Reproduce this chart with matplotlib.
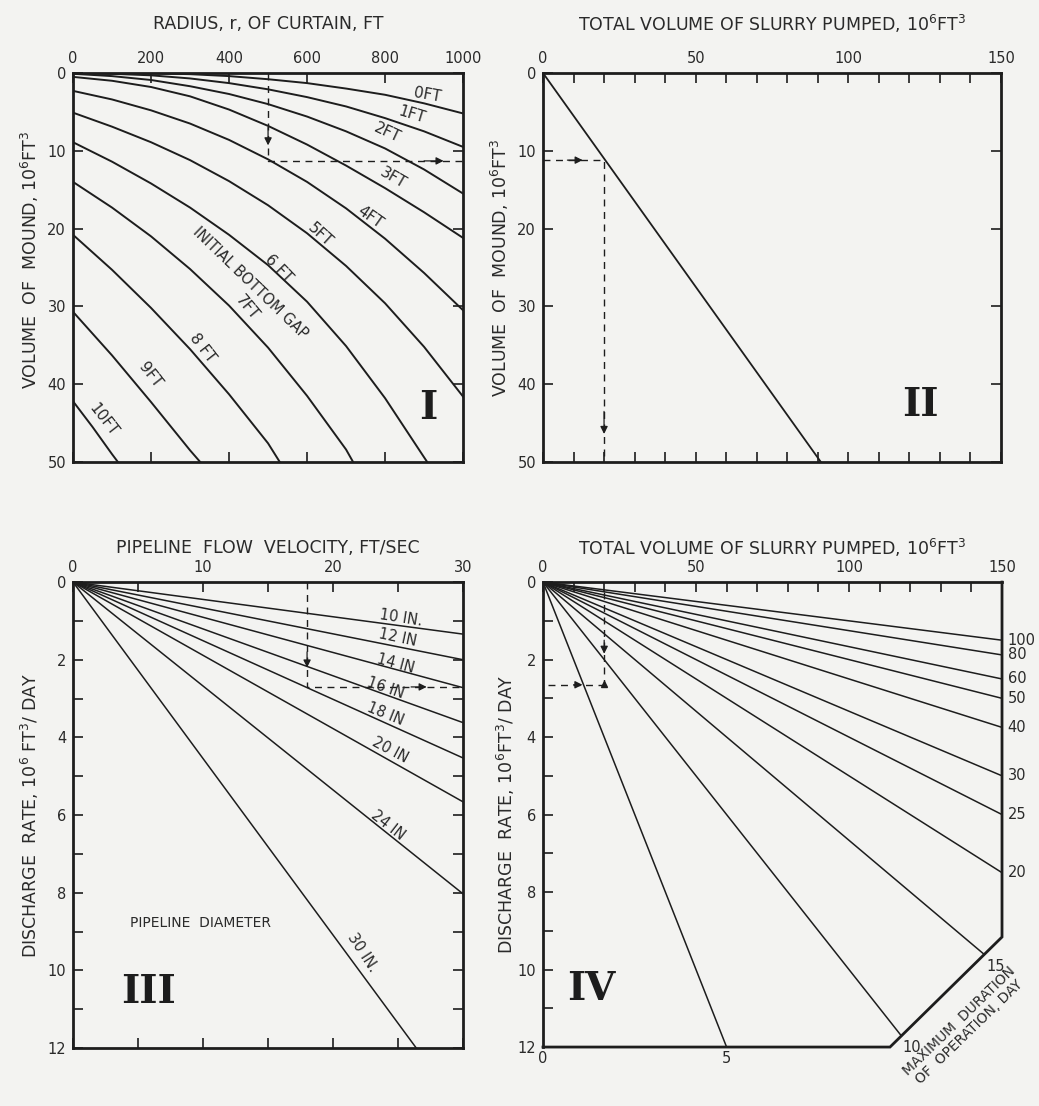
import numpy as np
import matplotlib.pyplot as plt
from matplotlib.ticker import MultipleLocator

plt.rcParams['font.family'] = ['DejaVu Sans']
plt.rcParams['mathtext.default'] = 'regular'

INK = '#1d1d1d'
PAPER = '#f3f3f1'
TXT = '#2a2a2a'

# ---- panel I : volume of mound vs radius of curtain, one curve per bottom gap
gap_labels = ['0FT', '1FT', '2FT', '3FT', '4FT', '5FT', '6 FT', '7FT', '8 FT', '9FT', '10FT']
r_full = [0, 100, 200, 300, 400, 500, 600, 700, 800, 900, 1000]
gap_radius = [
    r_full, r_full, r_full, r_full, r_full, r_full,
    [0, 100, 200, 300, 400, 500, 600, 700, 800, 900, 908],
    [0, 100, 200, 300, 400, 500, 600, 700, 718],
    [0, 100, 200, 300, 400, 500, 530],
    [0, 100, 200, 300, 326],
    [0, 50, 100, 115],
]
gap_volume = [
    [0.0, 0.0, 0.05, 0.15, 0.4, 0.8, 1.3, 2.0, 2.8, 3.9, 5.2],
    [0.0, 0.1, 0.3, 0.7, 1.3, 2.1, 3.1, 4.3, 5.8, 7.5, 9.5],
    [0.1, 0.4, 0.9, 1.7, 2.7, 4.0, 5.6, 7.5, 9.7, 12.4, 15.5],
    [0.5, 1.0, 1.8, 3.0, 4.7, 6.8, 9.2, 11.9, 14.8, 17.9, 21.2],
    [2.3, 3.4, 4.8, 6.5, 8.6, 11.1, 14.0, 17.4, 21.3, 25.7, 30.5],
    [5.1, 6.9, 8.9, 11.2, 13.9, 17.0, 20.6, 24.8, 29.6, 35.2, 41.6],
    [8.9, 11.4, 14.2, 17.3, 20.8, 24.7, 29.4, 35.1, 41.8, 49.4, 50.0],
    [14.0, 17.3, 21.0, 25.2, 29.9, 35.3, 41.5, 48.4, 50.0],
    [20.8, 25.3, 30.2, 35.5, 41.3, 47.6, 50.0],
    [30.7, 36.3, 42.3, 48.5, 50.0],
    [42.2, 45.5, 49.0, 50.0],
]
# label anchor (radius, volume, angle)
gap_label_r = [908, 869, 805, 820, 762, 633, 526, 446, 333, 197, 77]
gap_label_v = [2.8, 5.4, 7.7, 13.5, 18.6, 20.8, 25.1, 30.1, 35.3, 38.8, 44.6]
gap_label_rot = [-10, -17, -25, -30, -35, -42, -46, -50, -52, -52, -52]
ex_radius, ex_mound = 500, 11.3

# ---- panel II : mound volume vs slurry pumped
slurry_line_x = [0, 91]
slurry_line_y = [0, 50]
ex_slurry = 20

# ---- panel III : discharge rate vs pipeline velocity
pipe_labels = ['10 IN.', '12 IN', '14 IN', '16 IN', '18 IN', '20 IN', '24 IN', '30 IN.']
pipe_end_vel = [30, 30, 30, 30, 30, 30, 30, 26.4]
pipe_end_rate = [1.34, 2.0, 2.72, 3.62, 4.53, 5.66, 8.03, 12.0]
pipe_label_v = [25.2, 25.0, 24.8, 24.0, 24.0, 24.4, 24.2, 22.3]
pipe_label_q = [0.93, 1.44, 2.09, 2.73, 3.40, 4.33, 6.26, 9.55]
pipe_label_rot = [-9, -12, -15, -19, -22, -28, -38, -57]
ex_velocity, ex_rate = 18, 2.7

# ---- panel IV : discharge rate vs slurry pumped, one line per duration
duration_days = [100, 80, 60, 50, 40, 30, 25, 20, 15, 10, 5]
dur_end_vol = [150, 150, 150, 150, 150, 150, 150, 150, 144.2, 117.1, 60]
dur_end_rate = [1.5, 1.88, 2.5, 3.0, 3.75, 5.0, 6.0, 7.5, 9.61, 11.71, 12.0]
boundary_vol = [0, 113.4, 150, 150]
boundary_rate = [12, 12, 9.16, 0]

fig = plt.figure(figsize=(10.39, 11.06), dpi=100, facecolor=PAPER)
ax1 = fig.add_axes([0.0703, 0.5823, 0.3754, 0.3517])
ax2 = fig.add_axes([0.5226, 0.5823, 0.4408, 0.3517])
ax3 = fig.add_axes([0.0703, 0.0524, 0.3754, 0.4213])
ax4 = fig.add_axes([0.5226, 0.0533, 0.4418, 0.4204])


def style(ax, xmax, ymax):
    ax.set_facecolor(PAPER)
    ax.set_xlim(0, xmax)
    ax.set_ylim(ymax, 0)
    ax.xaxis.tick_top()
    ax.tick_params(which='both', direction='in', top=True, bottom=True,
                   left=True, right=True, labeltop=True, labelbottom=False,
                   length=7, width=1.2, color=INK, labelcolor=TXT,
                   labelsize=10.5, pad=5)
    for s in ax.spines.values():
        s.set_linewidth(2)
        s.set_color(INK)


def dashed(ax, xs, ys):
    ax.plot(xs, ys, color=INK, lw=1.0, ls=(0, (5, 4)))


def head(ax, tip, back):
    ax.annotate('', xy=tip, xytext=back,
                arrowprops=dict(arrowstyle='-|>', color=INK, lw=0.9,
                                mutation_scale=11, shrinkA=0, shrinkB=0))


def numeral(ax, x, y, s):
    ax.text(x, y, s, fontsize=28, family='DejaVu Serif', fontweight='bold',
            ha='center', va='center', color=INK)


# panel I
style(ax1, 1000, 50)
ax1.set_xticks([0, 200, 400, 600, 800, 1000])
ax1.set_yticks([0, 10, 20, 30, 40, 50])
for r, v in zip(gap_radius, gap_volume):
    ax1.plot(r, v, color=INK, lw=1.4)
for lab, r, v, a in zip(gap_labels, gap_label_r, gap_label_v, gap_label_rot):
    ax1.text(r, v, lab, rotation=a, ha='center', va='center', fontsize=11, color=TXT)
ax1.text(454, 27.0, 'INITIAL BOTTOM GAP', rotation=-44, ha='center', va='center',
         fontsize=10.5, color=TXT)
dashed(ax1, [ex_radius, ex_radius, 1000], [0, ex_mound, ex_mound])
head(ax1, (ex_radius, 9.3), (ex_radius, 7.0))
head(ax1, (950, ex_mound), (900, ex_mound))
numeral(ax1, 910, 43, 'I')
ax1.text(0.5, 1.125, 'RADIUS, r, OF CURTAIN, FT', transform=ax1.transAxes,
         ha='center', va='center', fontsize=12.5, color=TXT)
ax1.text(-0.11, 0.52, 'VOLUME  OF  MOUND, 10$^6$FT$^3$', transform=ax1.transAxes,
         rotation=90, ha='center', va='center', fontsize=12.5, color=TXT)

# panel II
style(ax2, 150, 50)
ax2.set_xticks([0, 50, 100, 150])
ax2.xaxis.set_minor_locator(MultipleLocator(10))
ax2.set_yticks([0, 10, 20, 30, 40, 50])
ax2.plot(slurry_line_x, slurry_line_y, color=INK, lw=1.3)
dashed(ax2, [0, ex_slurry, ex_slurry], [ex_mound - 0.1, ex_mound - 0.1, 50])
head(ax2, (13, ex_mound - 0.1), (8, ex_mound - 0.1))
head(ax2, (ex_slurry, 46.4), (ex_slurry, 43.5))
numeral(ax2, 123.5, 42.7, 'II')
ax2.text(0.5, 1.125, 'TOTAL VOLUME OF SLURRY PUMPED, 10$^6$FT$^3$', transform=ax2.transAxes,
         ha='center', va='center', fontsize=12.5, color=TXT)
ax2.text(-0.094, 0.5, 'VOLUME  OF  MOUND, 10$^6$FT$^3$', transform=ax2.transAxes,
         rotation=90, ha='center', va='center', fontsize=12.5, color=TXT)

# panel III
style(ax3, 30, 12)
ax3.set_xticks([0, 10, 20, 30])
ax3.xaxis.set_minor_locator(MultipleLocator(5))
ax3.set_yticks([0, 2, 4, 6, 8, 10, 12])
ax3.yaxis.set_minor_locator(MultipleLocator(1))
for v, q in zip(pipe_end_vel, pipe_end_rate):
    ax3.plot([0, v], [0, q], color=INK, lw=1.1)
for lab, v, q, a in zip(pipe_labels, pipe_label_v, pipe_label_q, pipe_label_rot):
    ax3.text(v, q, lab, rotation=a, ha='center', va='center', fontsize=10.5, color=TXT)
ax3.text(9.8, 8.78, 'PIPELINE  DIAMETER', ha='center', va='center', fontsize=10, color=TXT)
dashed(ax3, [ex_velocity, ex_velocity, 30], [0, ex_rate, ex_rate])
head(ax3, (ex_velocity, 2.2), (ex_velocity, 1.8))
head(ax3, (27.2, ex_rate), (26.0, ex_rate))
numeral(ax3, 5.8, 10.56, 'III')
ax3.text(0.5, 1.073, 'PIPELINE  FLOW  VELOCITY, FT/SEC', transform=ax3.transAxes,
         ha='center', va='center', fontsize=12.5, color=TXT)
ax3.text(-0.11, 0.5, 'DISCHARGE  RATE, 10$^6$ FT$^3$/ DAY', transform=ax3.transAxes,
         rotation=90, ha='center', va='center', fontsize=12.5, color=TXT)

# panel IV
style(ax4, 150, 12)
ax4.set_xticks([0, 50, 100, 150])
ax4.xaxis.set_minor_locator(MultipleLocator(10))
ax4.set_yticks([0, 2, 4, 6, 8, 10, 12])
ax4.yaxis.set_minor_locator(MultipleLocator(1))
ax4.tick_params(which='both', bottom=False, right=False)
ax4.spines['right'].set_visible(False)
ax4.spines['bottom'].set_visible(False)
ax4.plot(boundary_vol, boundary_rate, color=INK, lw=2, clip_on=False,
         solid_joinstyle='miter')
for d, v, q in zip(duration_days, dur_end_vol, dur_end_rate):
    ax4.plot([0, v], [0, q], color=INK, lw=1.1)
    if v >= 150:
        ax4.text(151.8, q, str(d), ha='left', va='center', fontsize=10.5, color=TXT)
ax4.text(147.9, 9.93, '15', ha='center', va='center', fontsize=10.5, color=TXT)
ax4.text(120.5, 12.0, '10', ha='center', va='center', fontsize=10.5, color=TXT)
ax4.text(59.9, 12.3, '5', ha='center', va='center', fontsize=10.5, color=TXT)
ax4.text(0, 12.3, '0', ha='center', va='center', fontsize=10.5, color=TXT)
fig.text(0.928, 0.072, 'MAXIMUM  DURATION\nOF  OPERATION, DAY', rotation=44,
         ha='center', va='center', multialignment='center', fontsize=10,
         color=TXT, linespacing=1.1)
dashed(ax4, [ex_slurry, ex_slurry], [0.25, 2.65])
dashed(ax4, [1.6, ex_slurry], [2.65, 2.65])
head(ax4, (ex_slurry, 1.85), (ex_slurry, 1.5))
head(ax4, (12.9, 2.65), (10.0, 2.65))
ax4.plot([ex_slurry], [2.62], marker='^', color=INK, ms=5)
numeral(ax4, 15.9, 10.5, 'IV')
ax4.text(0.5, 1.073, 'TOTAL VOLUME OF SLURRY PUMPED, 10$^6$FT$^3$', transform=ax4.transAxes,
         ha='center', va='center', fontsize=12.5, color=TXT)
ax4.text(-0.08, 0.5, 'DISCHARGE  RATE, 10$^6$FT$^3$/ DAY', transform=ax4.transAxes,
         rotation=90, ha='center', va='center', fontsize=12.5, color=TXT)

fig.savefig('out.png', dpi=100, facecolor=PAPER)
